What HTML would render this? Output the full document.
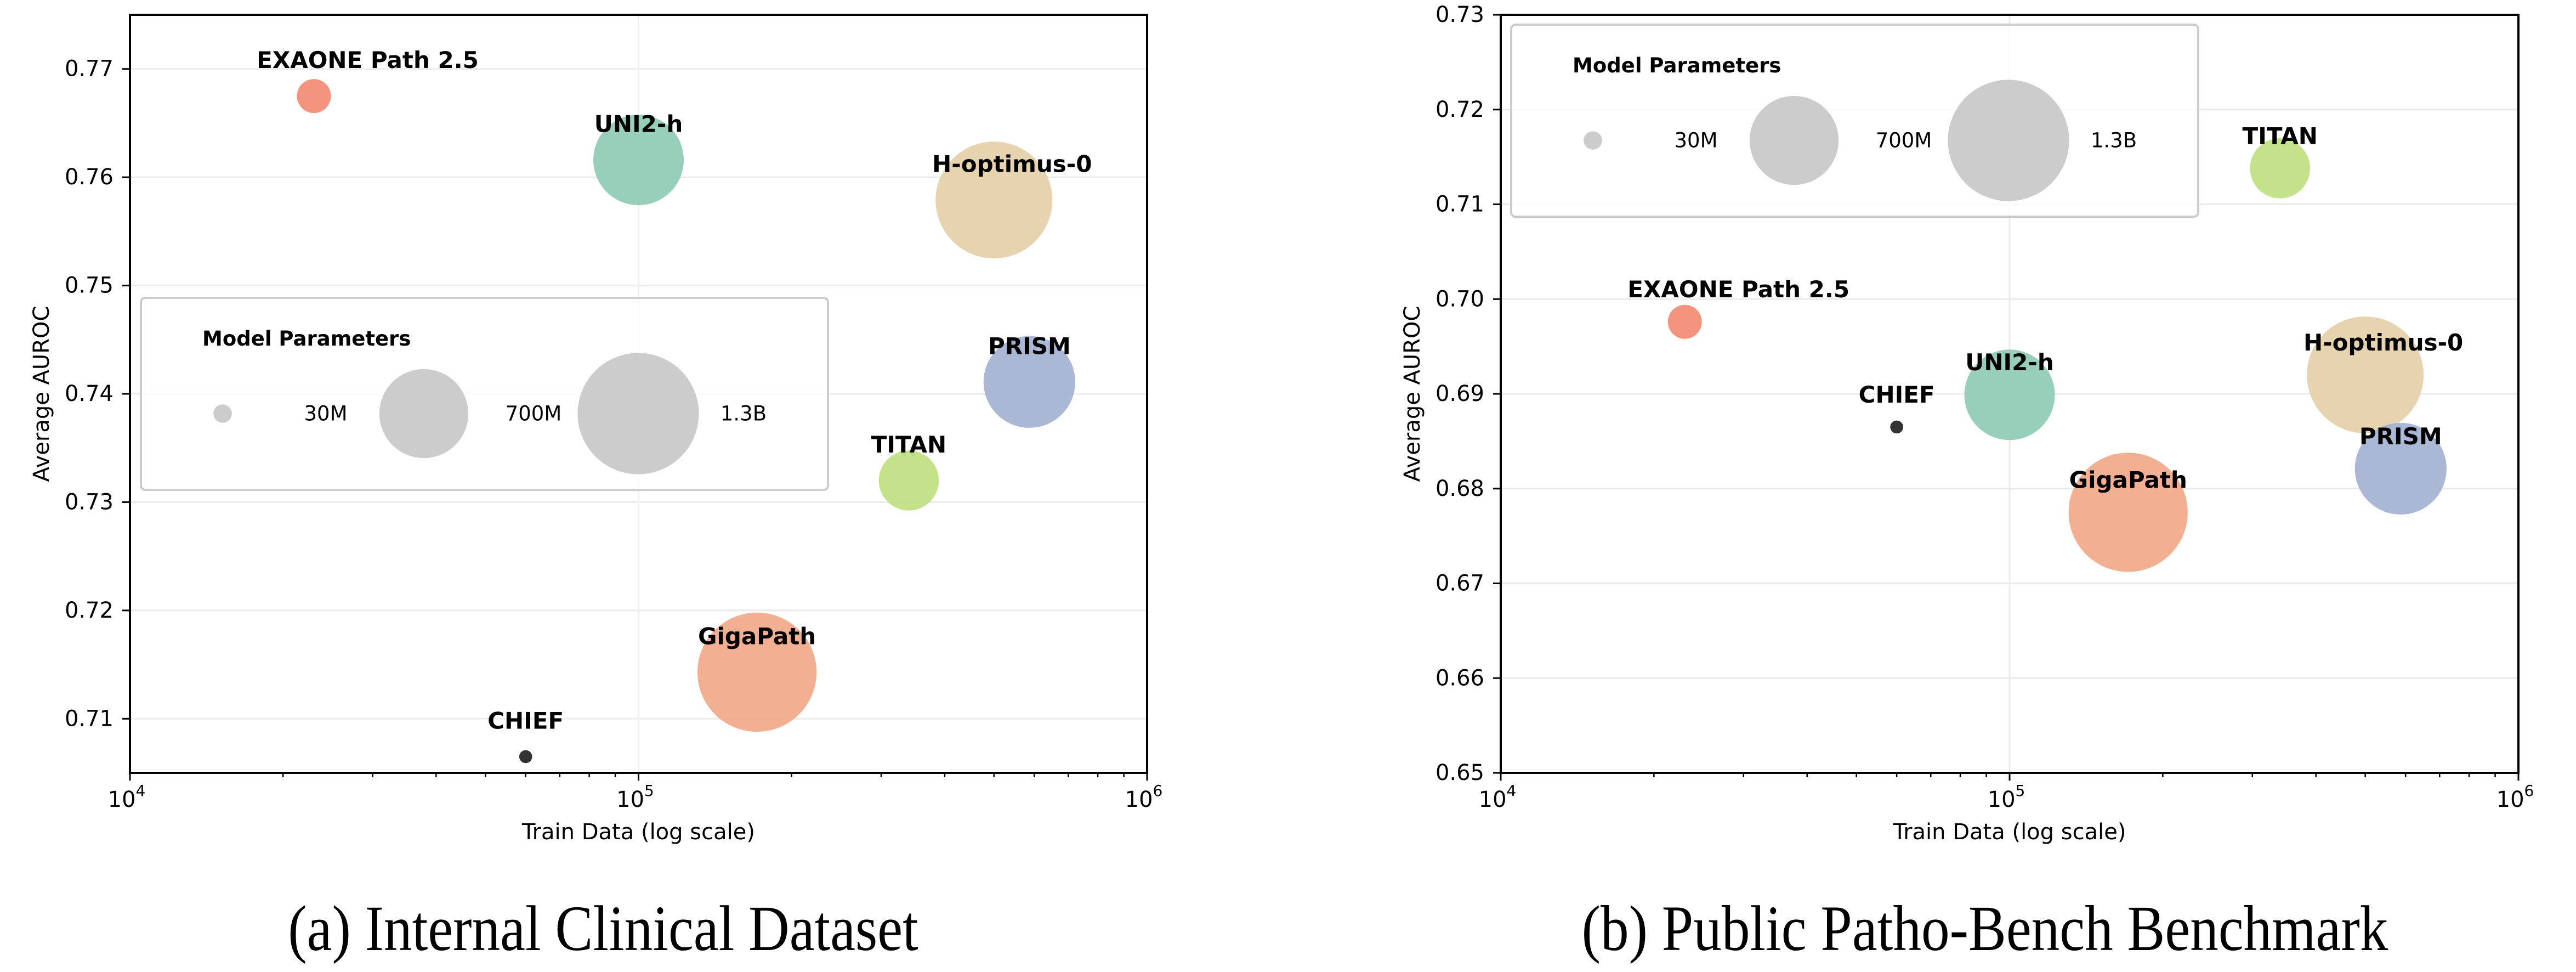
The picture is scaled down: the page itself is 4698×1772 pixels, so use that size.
<!DOCTYPE html>
<html><head><meta charset="utf-8"><style>
html,body{margin:0;padding:0;background:#fff;}
svg{display:block;}
</style></head><body>
<svg id="fig" width="4698" height="1772" viewBox="0 0 4698 1772" xmlns="http://www.w3.org/2000/svg" font-family="'DejaVu Sans', 'Liberation Sans', sans-serif"></svg>
<script>
const models = ["EXAONE Path 2.5","UNI2-h","H-optimus-0","PRISM","TITAN","GigaPath","CHIEF"];
const colors = ["#f28b74","#8ecbb5","#e6cfa9","#a3b2d3","#bfdf80","#f2a889","#333333"];
const trainData = [23000,100000,500000,587000,340000,171000,60000];
const paramsM = [96,681,1134,700,300,1180,14];
const aurocInternal = [0.7675,0.7616,0.7579,0.7411,0.7320,0.7143,0.7065];
const aurocPublic = [0.6976,0.6899,0.6920,0.6821,0.7138,0.6775,0.6865];
const yTicksInternal = [0.71,0.72,0.73,0.74,0.75,0.76,0.77];
const yTicksPublic = [0.65,0.66,0.67,0.68,0.69,0.70,0.71,0.72,0.73];
const legendParams = [30,700,1300];
const legendLabels = ["30M","700M","1.3B"];
const labelShift = [98,0,33,0,0,0,0];

const NS="http://www.w3.org/2000/svg";
const svg=document.getElementById('fig');
function el(tag,attrs,parent,text){const e=document.createElementNS(NS,tag);for(const k in attrs)e.setAttribute(k,attrs[k]);if(text!==undefined)e.textContent=text;(parent||svg).appendChild(e);return e;}
function rad(p){return 114*Math.sqrt(p/1300);}

function panel(cfg){
  const g=el('g',{});
  
  
  const L=cfg.x0,R=cfg.x1,T=27,B=1409;
  const xs=v=>L+(Math.log10(v)-4)/2*(R-L);
  const ys=v=>B-(v-cfg.ymin)/(cfg.ymax-cfg.ymin)*(B-T);
  cfg.yTicks.forEach(t=>{const l=el('line',{x1:L,x2:R,y1:ys(t),y2:ys(t),stroke:'#ebebeb','stroke-width':3},g);
    
    });
  [1e5].forEach(t=>{const l=el('line',{x1:xs(t),x2:xs(t),y1:T,y2:B,stroke:'#ebebeb','stroke-width':3},g);
    
    });
  const lg=el('g',{},g);
  
  
  const lx=cfg.lx,ly=cfg.ly;
  el('rect',{x:lx,y:ly,width:1253,height:350,rx:8,fill:'#fff','fill-opacity':0.8,stroke:'#cccccc','stroke-width':4},lg);
  const lt=el('text',{x:lx+112,y:ly+87,'font-size':37,'font-weight':'bold',fill:'#000'},lg,'Model Parameters');
  
  
  const cxs=[lx+149,lx+516,lx+907],lbx=[lx+337,lx+716,lx+1099];
  legendParams.forEach((p,i)=>{
    const c=el('circle',{cx:cxs[i],cy:ly+211,r:Math.max(rad(p)*0.97,13),fill:'#cccccc'},lg);
    
    
    const t=el('text',{x:lbx[i],y:ly+211,'font-size':37,'text-anchor':'middle','dominant-baseline':'central',fill:'#000'},lg,legendLabels[i]);
    
    
  });
  models.forEach((m,i)=>{
    const c=el('circle',{cx:xs(trainData[i]),cy:ys(cfg.values[i]),r:rad(paramsM[i]),fill:colors[i],'fill-opacity':i==6?1:0.92},g);
    
    
  });
  models.forEach((m,i)=>{
    const t=el('text',{x:xs(trainData[i])+labelShift[i],y:ys(cfg.values[i]+0.00258),'font-size':42,'font-weight':'bold','text-anchor':'middle',fill:'#000'},g,m);
    
    
  });
  const sp=el('rect',{x:L,y:T,width:R-L,height:B-T,fill:'none',stroke:'#000','stroke-width':4},g);
  
  
  cfg.yTicks.forEach(t=>{
    el('line',{x1:L-14,x2:L,y1:ys(t),y2:ys(t),stroke:'#000','stroke-width':3},g);
    const tx=el('text',{x:L-30,y:ys(t),'font-size':40,'text-anchor':'end','dominant-baseline':'central',fill:'#000'},g,t.toFixed(2));
    
    
  });
  [4,5,6].forEach(e=>{
    const x=xs(Math.pow(10,e));
    el('line',{x1:x,x2:x,y1:B,y2:B+14,stroke:'#000','stroke-width':3},g);
    const tx=el('text',{x:x-6,y:B+62,'font-size':40,'text-anchor':'middle',fill:'#000'},g);
    
    
    el('tspan',{},tx,'10');
    el('tspan',{dy:-20,'font-size':28},tx,String(e));
  });
  [4,5].forEach(e=>{for(let k=2;k<10;k++){const x=xs(k*Math.pow(10,e));
    el('line',{x1:x,x2:x,y1:B,y2:B+8,stroke:'#000','stroke-width':2.5},g);}});
  const xl=el('text',{x:(L+R)/2,y:1530,'font-size':40,'text-anchor':'middle',fill:'#000'},g,'Train Data (log scale)');
  
  
  const yl=el('text',{x:0,y:0,'font-size':40,'text-anchor':'middle','dominant-baseline':'central',fill:'#000',transform:`translate(${cfg.ylx},${(T+B)/2}) rotate(-90)`},g,'Average AUROC');
  
  
  const cap=el('text',{x:0,y:0,'font-size':118,'text-anchor':'middle','font-family':"'Liberation Serif', serif",fill:'#000',transform:`translate(${cfg.capx},1732) scale(0.875,1)`},g,cfg.caption);
  
  
}
panel({name:'internal-clinical-chart',x0:237,x1:2092,ymin:0.705,ymax:0.775,yTicks:yTicksInternal,values:aurocInternal,lx:257,ly:543,ylx:76,capx:1100,caption:'(a) Internal Clinical Dataset'});
panel({name:'public-patho-bench-chart',x0:2737,x1:4593,ymin:0.65,ymax:0.73,yTicks:yTicksPublic,values:aurocPublic,lx:2756,ly:45,ylx:2576,capx:3620,caption:'(b) Public Patho-Bench Benchmark'});
</script>
</body></html>
